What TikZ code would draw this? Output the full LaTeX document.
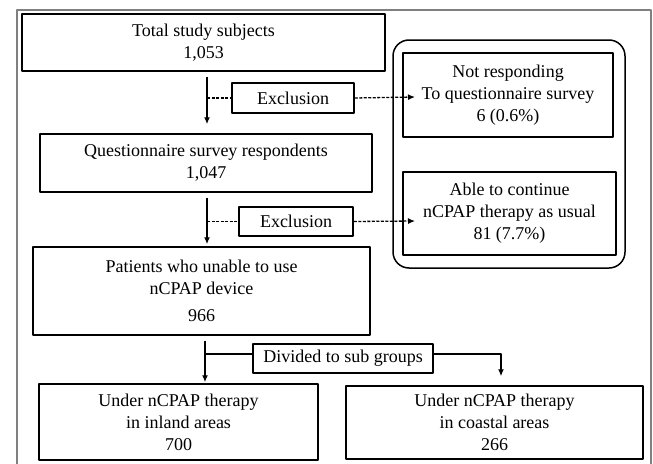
\documentclass[tikz,border=0pt]{standalone}
\usepackage{fontspec}
\setmainfont{Liberation Serif}
\usetikzlibrary{arrows.meta}
\begin{document}
\begin{tikzpicture}[x=1pt,y=-1pt,join=round,
    box/.style={draw,line width=1.5pt,align=center,inner sep=0pt,font=\fontsize{18}{22}\selectfont},
    tip/.style={-{Latex[length=7pt,width=6pt]},line width=1.3pt},
    dashline/.style={dash pattern=on 3pt off 1.5pt,line width=1.1pt}] % Study flow chart
        \useasboundingbox (0,0) rectangle (653,463);
        \draw[gray,line width=1.5pt] (17,470)--(17,10)--(651,10)--(651,470);
        \draw[line width=1.5pt,rounded corners=16pt] (393,40) rectangle (625,268);
        \node[box,minimum width=363pt,minimum height=57pt] (total) at (203.5,42.5) {Total study subjects\\1,053};
        \node[box,minimum width=332pt,minimum height=58pt] (quest) at (206,163) {Questionnaire survey respondents\\1,047};
        \node[box,minimum width=337pt,minimum height=88pt] (unable) at (201.5,291) {Patients who unable to use\\nCPAP device\\[5pt]966};
        \node[box,minimum width=279pt,minimum height=76pt] (inland) at (178.5,422) {Under nCPAP therapy\\in inland areas\\700};
        \node[box,minimum width=297pt,minimum height=73pt] (coastal) at (494.5,422.5) {Under nCPAP therapy\\in coastal areas\\266};
        \node[box,minimum width=122pt,minimum height=30pt] (excl1) at (293,98) {Exclusion};
        \node[box,minimum width=114pt,minimum height=29pt] (excl2) at (296,221.5) {Exclusion};
        \node[box,minimum width=180pt,minimum height=29pt] (divided) at (343,358.5) {Divided to sub groups};
        \node[box,minimum width=210pt,minimum height=84pt] (notresp) at (508,95) {Not responding\\To questionnaire survey\\6 (0.6\%)};
        \node[box,minimum width=213pt,minimum height=83pt] (able) at (509.5,213.5) {Able to continue\\nCPAP therapy as usual\\81 (7.7\%)};
        \coordinate (trunk1) at (207,0);
        \coordinate (trunk3) at (205,354);
        \coordinate (trunk4) at (501,0);
        \coordinate (in1) at (415,97);
        \coordinate (in2) at (415,221);
        \draw[tip,shorten <=5pt,shorten >=9pt] (total.south -| trunk1) -- (quest.north -| trunk1);
        \draw[tip,shorten <=5pt,shorten >=2pt] (quest.south -| trunk1) -- (unable.north -| trunk1);
        \draw[tip,shorten <=5pt,shorten >=1pt] (unable.south -| trunk3) -- (inland.north -| trunk3);
        \draw[dashline] (excl1.west -| trunk1) -- (excl1.west);
        \draw[dashline] (excl2.west -| trunk1) -- (excl2.west);
        \draw[dashline,tip] (excl1.east) -- (in1);
        \draw[dashline,tip] (excl2.east) -- (in2);
        \draw[line width=1.3pt] (trunk3) -- (trunk3 -| divided.west);
        \draw[tip,shorten >=9pt] (trunk3 -| divided.east) -| (coastal.north -| trunk4);
\end{tikzpicture}
\end{document}
